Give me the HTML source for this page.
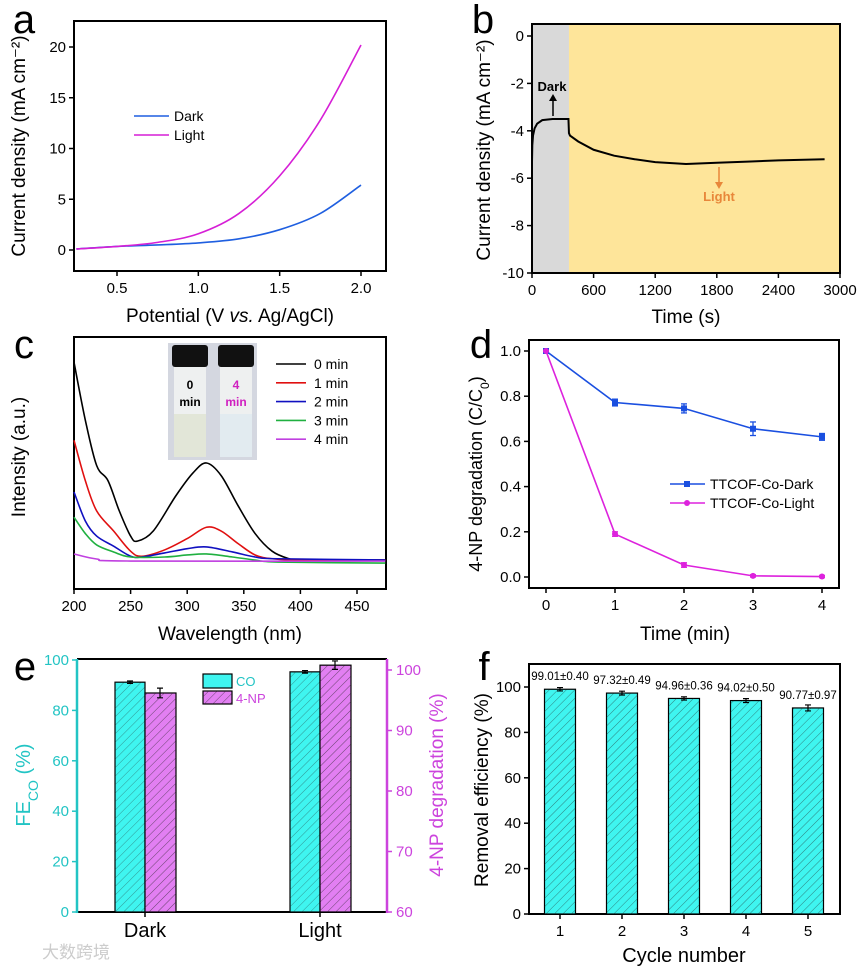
<!DOCTYPE html>
<html><head><meta charset="utf-8"><style>
html,body{margin:0;padding:0;background:#fff;}
svg{display:block;font-family:"Liberation Sans","Noto Sans CJK SC",sans-serif;}
</style></head><body>
<svg id="fig" width="866" height="970" viewBox="0 0 866 970" xmlns="http://www.w3.org/2000/svg">
<defs>
<pattern id="hatch" width="6" height="6" patternUnits="userSpaceOnUse" patternTransform="rotate(45)">
<line x1="0" y1="0" x2="0" y2="6" stroke="#222" stroke-width="0.9"/>
</pattern>
</defs>
<g id="root"></g>
<text x="42" y="958" font-size="17" fill="#ccc">大数跨境</text>
</svg>
<script>
// Panel a data
const aX = [0.25,0.5,0.75,1.0,1.25,1.5,1.75,2.0];
const aDark = [0.1,0.35,0.5,0.7,1.1,2.0,3.6,6.4];
const aLight = [0.1,0.35,0.75,1.6,3.6,7.3,12.8,20.2];
const aXTicks = [0.5,1.0,1.5,2.0];
const aYTicks = [0,5,10,15,20];
// Panel b data
const bT = [0,3,10,25,50,100,200,355,360,370,450,600,800,1000,1200,1500,1800,2100,2400,2850];
const bJ = [-5.3,-4.6,-4.2,-3.9,-3.7,-3.55,-3.5,-3.5,-4.1,-4.2,-4.45,-4.8,-5.05,-5.2,-5.32,-5.4,-5.35,-5.3,-5.25,-5.2];
const bXTicks = [0,600,1200,1800,2400,3000];
const bYTicks = [0,-2,-4,-6,-8,-10];
// Panel c data
const cBlackX = [200,210,220,230,240,250,256,270,290,305,317,330,345,360,375,390,400,475];
const cBlack = [0.90,0.67,0.49,0.43,0.31,0.21,0.19,0.23,0.37,0.46,0.50,0.45,0.33,0.22,0.15,0.12,0.115,0.115];
const cRedX = [200,210,220,235,250,260,280,300,317,330,345,360,375,400,475];
const cRed = [0.59,0.43,0.31,0.23,0.15,0.13,0.155,0.20,0.245,0.23,0.18,0.135,0.12,0.115,0.115];
const cBlueX = [200,210,220,235,250,260,280,300,317,340,360,380,475];
const cBlue = [0.385,0.27,0.21,0.17,0.13,0.127,0.143,0.16,0.167,0.147,0.127,0.12,0.115];
const cGreenX = [200,210,220,235,250,280,300,317,340,360,380,475];
const cGreen = [0.285,0.22,0.175,0.147,0.127,0.127,0.135,0.139,0.127,0.115,0.107,0.103];
const cPurpleX = [200,220,250,475];
const cPurple = [0.139,0.119,0.111,0.111];
const cXTicks = [200,250,300,350,400,450];
const cLegend = ["0 min","1 min","2 min","3 min","4 min"];
// Panel d data
const dT = [0,1,2,3,4];
const dDark = [1.0,0.772,0.746,0.656,0.62];
const dDarkErr = [0,0.015,0.02,0.03,0.015];
const dLight = [1.0,0.19,0.053,0.005,0.002];
const dLightErr = [0,0.01,0.01,0.005,0.005];
const dYTicks = [0,0.2,0.4,0.6,0.8,1.0];
// Panel e data
const eCats = ["Dark","Light"];
const eCO = [91.2,95.3];
const eCOErr = [0.5,0.5];
const eNP = [96.2,100.8];
const eNPErr = [0.8,0.7];
const eLTicks = [0,20,40,60,80,100];
const eRTicks = [60,70,80,90,100];
// Panel f data
const fCycles = [1,2,3,4,5];
const fVals = [99.01,97.32,94.96,94.02,90.77];
const fErr = [0.40,0.49,0.36,0.50,0.97];
const fLabels = ["99.01±0.40","97.32±0.49","94.96±0.36","94.02±0.50","90.77±0.97"];
const fYTicks = [0,20,40,60,80,100];

const NS = "http://www.w3.org/2000/svg";
const root = document.getElementById('root');
function mk(tag, attrs, name, parent){
  const el = document.createElementNS(NS, tag);
  for (const k in attrs) el.setAttribute(k, attrs[k]);
  
  
  (parent||root).appendChild(el);
  return el;
}
function txt(x,y,s,size,name,opts){
  opts = opts||{};
  const t = mk('text',{x:x,y:y,'font-size':size,fill:opts.fill||'#000','text-anchor':opts.anchor||'middle','font-weight':opts.bold?'bold':'normal'},name);
  if (opts.rot) t.setAttribute('transform','rotate(-90 '+x+' '+y+')');
  t.textContent = s;
  return t;
}
function sc(d0,d1,r0,r1){ return v => r0 + (v-d0)*(r1-r0)/(d1-d0); }
function crPath(pts){
  let d = 'M'+pts[0][0]+','+pts[0][1];
  for (let i=0;i<pts.length-1;i++){
    const p0=pts[Math.max(0,i-1)],p1=pts[i],p2=pts[i+1],p3=pts[Math.min(pts.length-1,i+2)];
    const c1=[p1[0]+(p2[0]-p0[0])/6,p1[1]+(p2[1]-p0[1])/6];
    const c2=[p2[0]-(p3[0]-p1[0])/6,p2[1]-(p3[1]-p1[1])/6];
    d+=' C'+c1[0]+','+c1[1]+' '+c2[0]+','+c2[1]+' '+p2[0]+','+p2[1];
  }
  return d;
}
function box(x0,y0,x1,y1,name,col){
  mk('rect',{x:x0,y:y0,width:x1-x0,height:y1-y0,fill:'none',stroke:col||'#000','stroke-width':2},name);
}
function hTicks(xs,sx,y,labels,name){
  xs.forEach((v,i)=>{
    mk('line',{x1:sx(v),y1:y,x2:sx(v),y2:y+5,stroke:'#000','stroke-width':1.5},name+'-tick');
    txt(sx(v),y+22,labels[i],15,name+'-label');
  });
}
function vTicks(ys,sy,x,labels,name,col,right){
  ys.forEach((v,i)=>{
    mk('line',{x1:x,y1:sy(v),x2:right?x+5:x-5,y2:sy(v),stroke:col||'#000','stroke-width':1.5},name+'-tick');
    txt(right?x+9:x-8,sy(v)+5,labels[i],15,name+'-label',{anchor:right?'start':'end',fill:col||'#000'});
  });
}

// ===== Panel a =====
(function(){
  const sx = sc(0.5,2.0,117,361), sy = sc(0,20,250,47);
  box(74,21,386,271,'panel-a-frame');
  hTicks(aXTicks,sx,271,["0.5","1.0","1.5","2.0"],'panel-a-x');
  vTicks(aYTicks,sy,74,["0","5","10","15","20"],'panel-a-y');
  mk('path',{d:crPath(aX.map((v,i)=>[sx(v),sy(aDark[i])])),fill:'none',stroke:'#1f5fe0','stroke-width':1.6},'dark-curve');
  mk('path',{d:crPath(aX.map((v,i)=>[sx(v),sy(aLight[i])])),fill:'none',stroke:'#d61fd6','stroke-width':1.6},'light-curve');
  mk('line',{x1:134,y1:116,x2:169,y2:116,stroke:'#1f5fe0','stroke-width':1.6},'legend-dark-line');
  txt(174,121,'Dark',14,'legend-dark',{anchor:'start'});
  mk('line',{x1:134,y1:135,x2:169,y2:135,stroke:'#d61fd6','stroke-width':1.6},'legend-light-line');
  txt(174,140,'Light',14,'legend-light',{anchor:'start'});
  txt(25,146,'Current density (mA cm⁻²)',19,'panel-a-y-title',{rot:true});
  const t = txt(230,322,'',19,'panel-a-x-title');
  t.innerHTML = 'Potential (V <tspan font-style="italic">vs.</tspan> Ag/AgCl)';
  txt(24,33,'a',40,'panel-a-letter');
})();

// ===== Panel b =====
(function(){
  const sx = sc(0,3000,532,840), sy = sc(0,-10,36,273);
  mk('rect',{x:532,y:24,width:sx(360)-532,height:249,fill:'#d9d9d9'},'dark-region');
  mk('rect',{x:sx(360),y:24,width:840-sx(360),height:249,fill:'#fee59a'},'light-region');
  box(532,24,840,273,'panel-b-frame');
  hTicks(bXTicks,sx,273,bXTicks.map(String),'panel-b-x');
  vTicks(bYTicks,sy,532,bYTicks.map(String),'panel-b-y');
  mk('polyline',{points:bT.map((v,i)=>sx(v)+','+sy(bJ[i])).join(' '),fill:'none',stroke:'#000','stroke-width':2},'current-trace');
  txt(552,91,'Dark',13,'dark-annotation',{bold:true});
  mk('line',{x1:553,y1:116,x2:553,y2:99,stroke:'#000','stroke-width':1.5},'dark-arrow');
  mk('path',{d:'M549,101 L553,94 L557,101 Z',fill:'#000'},'dark-arrowhead');
  txt(719,201,'Light',13,'light-annotation',{bold:true,fill:'#e8873a'});
  mk('line',{x1:719,y1:167,x2:719,y2:184,stroke:'#e8873a','stroke-width':1.5},'light-arrow');
  mk('path',{d:'M715,182 L719,189 L723,182 Z',fill:'#e8873a'},'light-arrowhead');
  txt(490,150,'Current density (mA cm⁻²)',19,'panel-b-y-title',{rot:true});
  txt(686,323,'Time (s)',19,'panel-b-x-title');
  txt(483,33,'b',40,'panel-b-letter');
})();

// ===== Panel c =====
(function(){
  const sx = sc(200,450,74,357), sy = sc(0,1,589,337);
  box(74,337,386,589,'panel-c-frame');
  hTicks(cXTicks,sx,589,cXTicks.map(String),'panel-c-x');
  const series = [[cBlackX,cBlack,'#000'],[cRedX,cRed,'#e01010'],[cBlueX,cBlue,'#1010c0'],[cGreenX,cGreen,'#20b040'],[cPurpleX,cPurple,'#c040e0']];
  series.forEach((s,k)=>{
    mk('path',{d:crPath(s[0].map((v,i)=>[sx(v),sy(s[1][i])])),fill:'none',stroke:s[2],'stroke-width':1.6},'spectrum-'+k+'min');
    mk('line',{x1:276,y1:364+k*18.8,x2:306,y2:364+k*18.8,stroke:s[2],'stroke-width':1.6},'legend-line-'+k);
    txt(314,369+k*18.8,cLegend[k],14,'legend-label-'+k,{anchor:'start'});
  });
  mk('rect',{x:168,y:343,width:89,height:117,fill:'#d4d7e0'},'inset-photo');
  [[171,'0','#000'],[217,'4','#d020c0']].forEach((v,i)=>{
    mk('rect',{x:v[0]+1,y:345,width:36,height:22,rx:3,fill:'#111'},'vial-cap-'+i);
    mk('rect',{x:v[0]+3,y:367,width:32,height:90,fill:'#eef0f0'},'vial-glass-'+i);
    mk('rect',{x:v[0]+3,y:414,width:32,height:43,fill:i?'#e2ebf0':'#e2e6d8'},'vial-liquid-'+i);
    txt(v[0]+19,389,v[1],12,'vial-label-num-'+i,{bold:true,fill:v[2]});
    txt(v[0]+19,406,'min',12,'vial-label-min-'+i,{bold:true,fill:v[2]});
  });
  txt(25,457,'Intensity (a.u.)',19,'panel-c-y-title',{rot:true});
  txt(230,640,'Wavelength (nm)',19,'panel-c-x-title');
  txt(24,358,'c',40,'panel-c-letter');
})();

// ===== Panel d =====
(function(){
  const sx = sc(0,4,546,822), sy = sc(0,1,577,351);
  box(529,340,839,588,'panel-d-frame');
  hTicks(dT,sx,588,dT.map(String),'panel-d-x');
  vTicks(dYTicks,sy,529,dYTicks.map(v=>v.toFixed(1)),'panel-d-y');
  [[dDark,dDarkErr,'#1a4fe0','dark','rect'],[dLight,dLightErr,'#dd22dd','light','circle']].forEach(s=>{
    mk('polyline',{points:dT.map((t,i)=>sx(t)+','+sy(s[0][i])).join(' '),fill:'none',stroke:s[2],'stroke-width':1.6},s[3]+'-degradation-line');
    dT.forEach((t,i)=>{
      const x=sx(t), y=sy(s[0][i]), e=s[1][i]*226;
      if (e>0){
        mk('line',{x1:x,y1:y-e,x2:x,y2:y+e,stroke:s[2],'stroke-width':1.3},s[3]+'-error-bar');
        mk('line',{x1:x-3,y1:y-e,x2:x+3,y2:y-e,stroke:s[2],'stroke-width':1.3},s[3]+'-error-cap');
        mk('line',{x1:x-3,y1:y+e,x2:x+3,y2:y+e,stroke:s[2],'stroke-width':1.3},s[3]+'-error-cap');
      }
      if (s[4]==='rect') mk('rect',{x:x-3,y:y-3,width:6,height:6,fill:s[2]},s[3]+'-point');
      else mk('circle',{cx:x,cy:y,r:3,fill:s[2]},s[3]+'-point');
    });
  });
  mk('line',{x1:670,y1:484,x2:705,y2:484,stroke:'#1a4fe0','stroke-width':1.6},'legend-dark-line');
  mk('rect',{x:684,y:481,width:6,height:6,fill:'#1a4fe0'},'legend-dark-marker');
  txt(710,489,'TTCOF-Co-Dark',14,'legend-dark-label',{anchor:'start'});
  mk('line',{x1:670,y1:503,x2:705,y2:503,stroke:'#dd22dd','stroke-width':1.6},'legend-light-line');
  mk('circle',{cx:687,cy:503,r:3,fill:'#dd22dd'},'legend-light-marker');
  txt(710,508,'TTCOF-Co-Light',14,'legend-light-label',{anchor:'start'});
  const t = txt(482,474,'',18,'panel-d-y-title',{rot:true});
  t.innerHTML = '4-NP degradation (C/C<tspan baseline-shift="sub" font-size="12">0</tspan>)';
  txt(685,640,'Time (min)',19,'panel-d-x-title');
  txt(481,358,'d',40,'panel-d-letter');
})();

// ===== Panel e =====
(function(){
  const CY='#22c4c4', MG='#cc44dd';
  const syL = sc(0,100,912,660), syR = sc(60,100,912,670);
  const xs = [145,320];
  mk('line',{x1:77,y1:659,x2:387,y2:659,stroke:'#000','stroke-width':2},'panel-e-top');
  mk('line',{x1:77,y1:912,x2:387,y2:912,stroke:'#000','stroke-width':2},'panel-e-x-axis');
  mk('line',{x1:77,y1:659,x2:77,y2:913,stroke:CY,'stroke-width':2.5},'panel-e-left-axis');
  mk('line',{x1:387,y1:659,x2:387,y2:913,stroke:MG,'stroke-width':2.5},'panel-e-right-axis');
  vTicks(eLTicks,syL,77,eLTicks.map(String),'panel-e-left',CY);
  vTicks(eRTicks,syR,387,eRTicks.map(String),'panel-e-right',MG,true);
  eCats.forEach((c,i)=>{
    const x=xs[i];
    const yc=syL(eCO[i]), yn=syR(eNP[i]);
    mk('rect',{x:x-30,y:yc,width:30,height:912-yc,fill:'#3ff5f0',stroke:'#000','stroke-width':1.2},'bar-co-'+c.toLowerCase());
    mk('rect',{x:x-30,y:yc,width:30,height:912-yc,fill:'url(#hatch)',opacity:0.5},'bar-co-hatch');
    mk('rect',{x:x,y:yn,width:31,height:912-yn,fill:'#e27ff2',stroke:'#000','stroke-width':1.2},'bar-4np-'+c.toLowerCase());
    mk('rect',{x:x,y:yn,width:31,height:912-yn,fill:'url(#hatch)',opacity:0.7},'bar-4np-hatch');
    const ec=eCOErr[i]*2.52, en=eNPErr[i]*6.05;
    mk('path',{d:`M${x-15},${yc-ec}V${yc+ec}M${x-18},${yc-ec}H${x-12}M${x-18},${yc+ec}H${x-12}`,stroke:'#000','stroke-width':1.2,fill:'none'},'error-bar-co');
    mk('path',{d:`M${x+15},${yn-en}V${yn+en}M${x+12},${yn-en}H${x+18}M${x+12},${yn+en}H${x+18}`,stroke:'#000','stroke-width':1.2,fill:'none'},'error-bar-4np');
    mk('line',{x1:x,y1:912,x2:x,y2:917,stroke:'#000','stroke-width':1.5},'panel-e-x-tick');
    txt(x,937,c,20,'panel-e-x-label-'+c.toLowerCase());
  });
  mk('rect',{x:203,y:674,width:29,height:14,fill:'#3ff5f0',stroke:'#000','stroke-width':1.2},'legend-co-swatch');
  mk('rect',{x:203,y:691,width:29,height:13,fill:'#e27ff2',stroke:'#000','stroke-width':1.2},'legend-4np-swatch');
  mk('rect',{x:203,y:691,width:29,height:13,fill:'url(#hatch)',opacity:0.7},'legend-4np-hatch');
  txt(236,686,'CO',13,'legend-co-label',{anchor:'start',fill:CY});
  txt(236,703,'4-NP',13,'legend-4np-label',{anchor:'start',fill:MG});
  const t = txt(30,785,'',20,'panel-e-left-title',{rot:true,fill:CY});
  t.innerHTML = 'FE<tspan baseline-shift="sub" font-size="14">CO</tspan> (%)';
  txt(443,785,'4-NP degradation (%)',19,'panel-e-right-title',{rot:true,fill:MG});
  txt(25,680,'e',40,'panel-e-letter');
})();

// ===== Panel f =====
(function(){
  const sx = sc(1,5,560,808), sy = sc(0,100,914,687);
  box(529,664,840,914,'panel-f-frame');
  hTicks(fCycles,sx,914,fCycles.map(String),'panel-f-x');
  vTicks(fYTicks,sy,529,fYTicks.map(String),'panel-f-y');
  fCycles.forEach((c,i)=>{
    const x=sx(c), y=sy(fVals[i]);
    mk('rect',{x:x-15.5,y:y,width:31,height:914-y,fill:'#3ff5f0',stroke:'#000','stroke-width':1.2},'bar-cycle-'+c);
    mk('rect',{x:x-15.5,y:y,width:31,height:914-y,fill:'url(#hatch)',opacity:0.6},'bar-hatch-'+c);
    const e=fErr[i]*2.27+0.8;
    mk('path',{d:`M${x},${y-e}V${y+e}M${x-3},${y-e}H${x+3}M${x-3},${y+e}H${x+3}`,stroke:'#000','stroke-width':1.2,fill:'none'},'error-bar-cycle-'+c);
    txt(x,y-9,fLabels[i],11.5,'value-label-'+c);
  });
  txt(488,790,'Removal efficiency (%)',19,'panel-f-y-title',{rot:true});
  txt(684,962,'Cycle number',20,'panel-f-x-title');
  txt(484,680,'f',40,'panel-f-letter');
})();
</script>
</body></html>
